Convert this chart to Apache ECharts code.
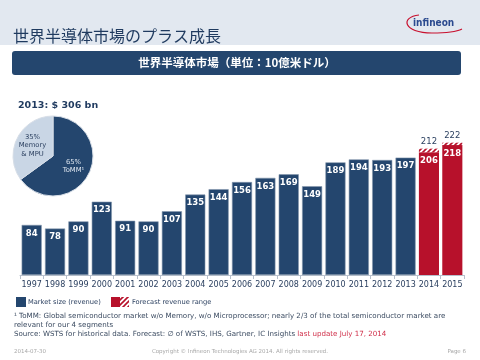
<!DOCTYPE html>
<html><head><meta charset="utf-8">
<script src="https://cdn.jsdelivr.net/npm/echarts@6/dist/echarts.min.js"></script>
<style>html,body{margin:0;padding:0;background:#fff}#c{width:480px;height:360px}</style>
</head><body><div id="c"></div>
<script>
var years = ['1997','1998','1999','2000','2001','2002','2003','2004','2005','2006','2007','2008','2009','2010','2011','2012','2013','2014','2015'];
var marketSize = [84,78,90,123,91,90,107,135,144,156,163,169,149,189,194,193,197,'-','-'];
var forecastLow = ['-','-','-','-','-','-','-','-','-','-','-','-','-','-','-','-','-',206,218];
var forecastHigh = ['-','-','-','-','-','-','-','-','-','-','-','-','-','-','-','-','-',212,222];
var pieNames = ['ToMM¹','Memory & MPU'];
var pieValues = [65,35];
var pieLabels = ['65%\nToMM¹','35%\nMemory\n& MPU'];

var NAVY = '#24466e', RED = '#b7112b', FONT = '"DejaVu Sans", Verdana, sans-serif', JP = '"Noto Sans CJK JP", sans-serif';

function hatch(){
  var c = document.createElement('canvas'); c.width = 5; c.height = 5;
  var g = c.getContext('2d');
  g.fillStyle = '#fff'; g.fillRect(0,0,5,5);
  g.strokeStyle = RED; g.lineWidth = 1.6;
  g.beginPath(); g.moveTo(-1,6); g.lineTo(6,-1); g.moveTo(-1,1); g.lineTo(1,-1); g.moveTo(4,6); g.lineTo(6,4); g.stroke();
  return {image: c, repeat: 'repeat'};
}
var hatchFill = hatch();
var rangeVals = forecastHigh.map(function(v,i){ return v === '-' ? '-' : v - forecastLow[i]; });

var chart = echarts.init(document.getElementById('c'), null, {renderer:'canvas'});
chart.setOption({
  animation: false,
  backgroundColor: '#fff',
  grid: {left: 20, right: 16, top: 126, bottom: 85},
  xAxis: {
    type: 'category', data: years,
    axisLine: {lineStyle: {color: '#b8c0cc', width: 1}},
    axisTick: {show: true, alignWithLabel: false, length: 4, lineStyle: {color: '#b8c0cc'}},
    axisLabel: {color: '#2a3f5f', fontFamily: FONT, fontSize: 8, margin: 6, interval: 0}
  },
  yAxis: {type: 'value', min: 0, max: 250, show: false, splitLine: {show: false}},
  series: [
    {type: 'bar', stack: 't', data: marketSize, barCategoryGap: '14%',
     itemStyle: {color: NAVY, borderColor: '#8597ad', borderWidth: 0.6},
     label: {show: true, position: 'insideTop', distance: 4, color: '#fff', fontFamily: FONT, fontWeight: 'bold', fontSize: 8.5}},
    {type: 'bar', stack: 't', data: forecastLow,
     itemStyle: {color: RED},
     label: {show: true, position: 'insideTop', distance: 4, color: '#fff', fontFamily: FONT, fontWeight: 'bold', fontSize: 8.5}},
    {type: 'bar', stack: 't', data: rangeVals,
     itemStyle: {color: hatchFill},
     label: {show: true, position: 'top', distance: 2, color: '#2a3f5f', fontFamily: FONT, fontSize: 8.5,
       formatter: function(p){ return forecastHigh[p.dataIndex]; }}},
    {type: 'pie', center: [53,156], radius: 40, startAngle: 90, clockwise: true,
     data: pieNames.map(function(n,i){ return {name: n, value: pieValues[i],
        itemStyle: {color: i === 0 ? NAVY : '#c9d6e5'},
        label: {color: i === 0 ? '#dfe7f1' : '#2a3f5f'}}; }),
     itemStyle: {borderColor: '#d7dee7', borderWidth: 1},
     label: {show: true, position: 'inside', fontFamily: FONT, fontSize: 6.8, lineHeight: 8.5,
       formatter: function(p){ return pieLabels[p.dataIndex]; }},
     labelLine: {show: false}}
  ],
  graphic: [
    {type: 'rect', shape: {x: 0, y: 0, width: 480, height: 45}, style: {fill: '#e2e8f0'}, z: -10},
    {type: 'text', left: 13, top: 28, style: {text: '世界半導体市場のプラス成長', font: '16px ' + JP, fill: '#1f3a5f'}},
    {type: 'rect', shape: {x: 12, y: 51, width: 449, height: 24, r: 3}, style: {fill: NAVY}},
    {type: 'text', x: 237, y: 63, style: {text: '世界半導体市場（単位：10億米ドル）', font: 'bold 11.5px ' + JP, fill: '#fff', align: 'center', verticalAlign: 'middle'}},
    {type: 'text', x: 18, y: 106, style: {text: '2013: $ 306 bn', font: 'bold 9.5px ' + FONT, fill: '#1f3a5f', verticalAlign: 'middle'}},
    // logo
    {type: 'text', x: 413, y: 23, style: {text: 'infineon', font: 'bold 10px "DejaVu Sans Condensed", ' + FONT, fill: '#2b4a8f', verticalAlign: 'middle'}},
    {type: 'bezierCurve', shape: {x1: 419, y1: 15, cpx1: 400, cpy1: 17, cpx2: 403, cpy2: 33, x2: 432, y2: 33}, style: {stroke: '#c8102e', lineWidth: 1.2, fill: null}},
    {type: 'bezierCurve', shape: {x1: 432, y1: 33, cpx1: 448, cpy1: 33, cpx2: 458, cpy2: 31, x2: 462, y2: 29}, style: {stroke: '#c8102e', lineWidth: 1.2, fill: null}},
    // legend
    {type: 'rect', shape: {x: 16, y: 297, width: 10, height: 10}, style: {fill: NAVY}},
    {type: 'text', x: 28, y: 302, style: {text: 'Market size (revenue)', font: '6.7px ' + FONT, fill: '#2a3f5f', verticalAlign: 'middle'}},
    {type: 'rect', shape: {x: 111, y: 297, width: 9, height: 10}, style: {fill: RED}},
    {type: 'rect', shape: {x: 120, y: 297, width: 9, height: 10}, style: {fill: hatchFill}},
    {type: 'text', x: 132, y: 302, style: {text: 'Forecast revenue range', font: '6.7px ' + FONT, fill: '#2a3f5f', verticalAlign: 'middle'}},
    // footnotes
    {type: 'text', x: 14, y: 316, style: {text: '¹ ToMM: Global semiconductor market w/o Memory, w/o Microprocessor; nearly 2/3 of the total semiconductor market are', font: '7.1px ' + FONT, fill: '#3a4a60', verticalAlign: 'middle'}},
    {type: 'text', x: 14, y: 325, style: {text: 'relevant for our 4 segments', font: '7.1px ' + FONT, fill: '#3a4a60', verticalAlign: 'middle'}},
    {type: 'text', x: 14, y: 334, style: {rich: {a: {font: '7.1px ' + FONT, fill: '#3a4a60'}, r: {font: '7.1px ' + FONT, fill: '#d0304a'}},
       text: '{a|Source: WSTS for historical data. Forecast: ∅ of WSTS, IHS, Gartner, IC Insights }{r|last update July 17, 2014}', verticalAlign: 'middle'}},
    // footer
    {type: 'text', x: 14, y: 352, style: {text: '2014-07-30', font: '5.5px ' + FONT, fill: '#a8a8a8', verticalAlign: 'middle'}},
    {type: 'text', x: 240, y: 352, style: {text: 'Copyright © Infineon Technologies AG 2014. All rights reserved.', font: '5.5px ' + FONT, fill: '#a8a8a8', align: 'center', verticalAlign: 'middle'}},
    {type: 'text', x: 466, y: 352, style: {text: 'Page 6', font: '5.5px ' + FONT, fill: '#a8a8a8', align: 'right', verticalAlign: 'middle'}}
  ]
});
</script></body></html>
